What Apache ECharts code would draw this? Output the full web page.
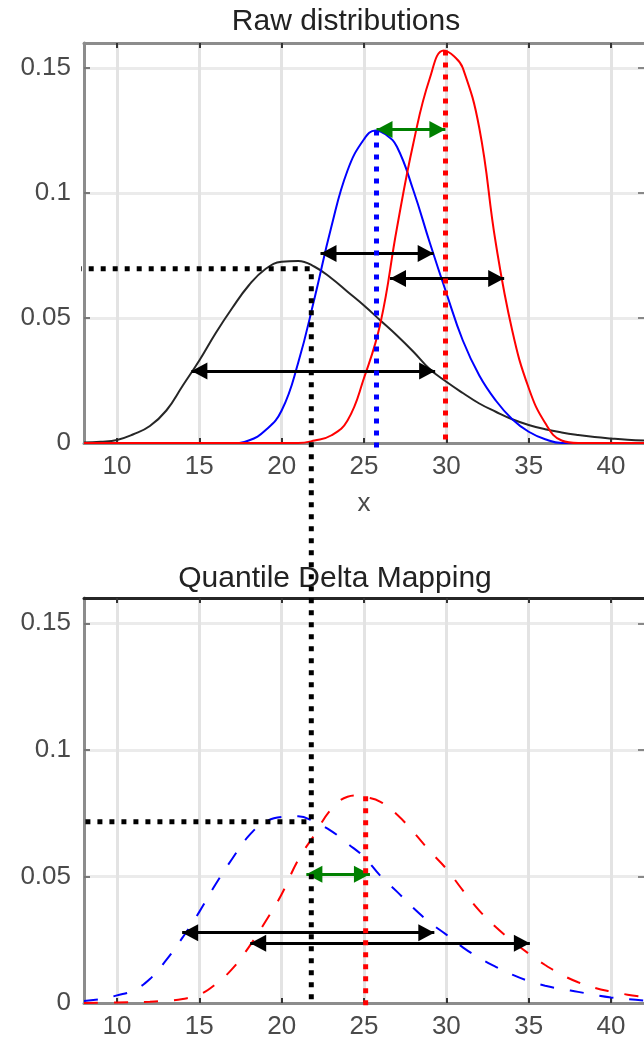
<!DOCTYPE html>
<html>
<head>
<meta charset="utf-8">
<title>Raw distributions / Quantile Delta Mapping</title>
<script src="https://cdn.jsdelivr.net/npm/echarts@6/dist/echarts.min.js"></script>
<style>
  html, body { margin: 0; padding: 0; background: #fff; }
  #chart { width: 644px; height: 1040px; }
</style>
</head>
<body>
<div id="chart"></div>
<script>
// tick values shared by both panels
const xTicks = [10, 15, 20, 25, 30, 35, 40];
const yTicks = [0, 0.05, 0.1, 0.15];

// top panel: raw pdfs (observed, model historical, model future)
const rawObs = [[8,0.0002],[9,0.0005],[10,0.0012],[11,0.0035],[12,0.0068],[13,0.013],[14,0.023],[15,0.033],[16,0.044],[17,0.054],[18,0.063],[19,0.0695],[20,0.0725],[21,0.0728],[22,0.0705],[23,0.066],[24,0.0605],[25,0.055],[26,0.049],[27,0.043],[28,0.0365],[29,0.0295],[30,0.0245],[31,0.02],[32,0.0158],[33,0.0125],[34,0.0095],[35,0.0072],[36,0.0055],[37,0.0042],[38,0.0032],[39,0.0024],[40,0.0018],[41,0.0013],[42,0.001]];
const rawHist = [[8,0],[10,0],[12,0],[14,0],[16,0],[17,0],[18,0.001],[19,0.005],[20,0.013],[21,0.032],[22,0.058],[23,0.086],[24,0.109],[25,0.1215],[25.7,0.125],[26.3,0.1235],[27,0.1185],[28,0.101],[29,0.08],[30,0.06],[31,0.041],[32,0.027],[33,0.017],[34,0.0095],[35,0.0045],[36,0.0015],[37,0],[38,0],[40,0],[42,0]];
const rawFut = [[8,0],[10,0],[12,0],[14,0],[16,0],[18,0],[20,0],[21,0],[22,0.001],[23,0.003],[24,0.009],[25,0.026],[26,0.048],[27,0.086],[28,0.12],[29,0.146],[29.85,0.157],[30.5,0.1545],[31,0.15],[32,0.126],[33,0.08],[34,0.045],[35,0.022],[36,0.008],[37,0.001],[38,0],[40,0],[42,0]];

// bottom panel: QDM-corrected pdfs
const qdmHist = [[8,0.0008],[9,0.0015],[10,0.003],[11,0.005],[12,0.0095],[13,0.017],[14,0.026],[15,0.036],[16,0.047],[17,0.057],[18,0.066],[19,0.0715],[20,0.0735],[21,0.0738],[22,0.0715],[23,0.068],[24,0.063],[25,0.0577],[26,0.0502],[27,0.044],[28,0.0375],[29,0.0318],[30,0.027],[31,0.022],[32,0.0178],[33,0.0143],[34,0.0112],[35,0.0087],[36,0.0068],[37,0.0055],[38,0.0044],[39,0.0032],[40,0.0022],[41,0.0015],[42,0.001]];
const qdmFut = [[8,0],[10,0.0002],[12,0.0005],[13,0.0009],[14,0.0016],[15,0.0033],[16,0.0075],[17,0.0135],[18,0.022],[19,0.032],[20,0.043],[21,0.0565],[22,0.0665],[23,0.0765],[24,0.0815],[24.6,0.082],[25,0.0815],[26,0.0795],[27,0.0745],[28,0.0675],[29,0.06],[30,0.053],[31,0.0445],[32,0.0365],[33,0.03],[34,0.0245],[35,0.0195],[36,0.015],[37,0.0112],[38,0.0082],[39,0.006],[40,0.0045],[41,0.0033],[42,0.0024]];

// dotted guide lines (x, y pairs)
const rawQuantGuide = [[6.1,0.0697],[21.8,0.0697],[21.8,-0.225]];
const rawHistPeak = [[25.76,0.125],[25.76,-0.003]];
const rawFutPeak = [[29.95,0.157],[29.95,0]];
const qdmQuantGuide = [[5.9,0.0716],[21.8,0.0716]];
const qdmFutPeak = [[25.1,0.0817],[25.1,-0.002]];

// double arrows: [x from, x to, y]
const rawSpread = [[22.36,29.23,0.0758],[26.58,33.51,0.0658],[14.52,29.32,0.0288]];
const rawShift = [[25.76,29.94,0.1254]];
const qdmSpread = [[13.96,29.27,0.0278],[18.09,35.07,0.0236]];
const qdmShift = [[21.5,25.36,0.0509]];

const FONT = '"Liberation Sans", Arial, sans-serif';
const chart = echarts.init(document.getElementById('chart'));

function xAxes(gi, frameColor, name) {
    return [{
        type: 'value', gridIndex: gi, position: 'bottom', min: 8, max: 42,
        axisLine: { show: true, onZero: false, lineStyle: { color: '#8c8c8c', width: 3 } },
        axisTick: { show: true, inside: true, length: 5, customValues: xTicks, lineStyle: { color: '#333', width: 2 } },
        axisLabel: { customValues: xTicks, margin: 11, fontSize: 26, color: '#4a4a4a', fontFamily: FONT },
        splitLine: { show: true, lineStyle: { color: '#e3e3e3', width: 3 } },
        name: name, nameLocation: 'middle', nameGap: 48,
        nameTextStyle: { fontSize: 26, color: '#4a4a4a', fontFamily: FONT }
    }, {
        type: 'value', gridIndex: gi, position: 'top', min: 8, max: 42,
        axisLine: { show: true, onZero: false, lineStyle: { color: frameColor, width: 3 } },
        axisTick: { show: true, inside: true, length: 5, customValues: xTicks, lineStyle: { color: '#333', width: 2 } },
        axisLabel: { show: false },
        splitLine: { show: false }
    }];
}

function yAxes(gi) {
    return [{
        type: 'value', gridIndex: gi, position: 'left', min: 0, max: 0.16,
        axisLine: { show: true, onZero: false, lineStyle: { color: '#8c8c8c', width: 3 } },
        axisTick: { show: true, inside: true, length: 6, customValues: yTicks, lineStyle: { color: '#777', width: 2 } },
        axisLabel: { customValues: yTicks, margin: 13, fontSize: 26, color: '#4a4a4a', fontFamily: FONT },
        splitLine: { show: true, lineStyle: { color: '#ebebeb', width: 3 } }
    }, {
        type: 'value', gridIndex: gi, position: 'right', min: 0, max: 0.16,
        axisLine: { show: false },
        axisTick: { show: true, inside: true, length: 6, customValues: yTicks, lineStyle: { color: '#888', width: 2 } },
        axisLabel: { show: false },
        splitLine: { show: false }
    }];
}

function curve(data, color, xi, yi, dashed) {
    return {
        type: 'line', data: data, xAxisIndex: xi, yAxisIndex: yi,
        symbol: 'none', smooth: 0.45, silent: true, z: 3,
        lineStyle: { color: color, width: 2, type: dashed ? [14, 16] : 'solid' }
    };
}

// thick dotted guide, allowed to leave its grid
function guide(data, color, xi, yi, z) {
    return {
        type: 'line', data: data, xAxisIndex: xi, yAxisIndex: yi,
        symbol: 'none', clip: false, silent: true, z: z || 5,
        lineStyle: { color: color, width: 5, type: [5, 7], cap: 'butt' }
    };
}

function arrows(list, color, xi, yi) {
    return {
        type: 'line', data: [], xAxisIndex: xi, yAxisIndex: yi, z: 6,
        markLine: {
            silent: true, animation: false,
            symbol: ['triangle', 'triangle'], symbolSize: [17, 16],
            symbolOffset: [[0, 8], [0, 8]],
            label: { show: false },
            lineStyle: { color: color, width: 3, type: 'solid' },
            data: list.map(a => [{ coord: [a[0], a[2]] }, { coord: [a[1], a[2]] }])
        }
    };
}

chart.setOption({
    animation: false,
    backgroundColor: '#fff',
    title: [
        { text: 'Raw distributions', left: 341, top: 2, textAlign: 'center',
          textStyle: { fontSize: 30, fontWeight: 'normal', color: '#222', fontFamily: FONT } },
        { text: 'Quantile Delta Mapping', left: 330, top: 559, textAlign: 'center',
          textStyle: { fontSize: 30, fontWeight: 'normal', color: '#222', fontFamily: FONT } }
    ],
    grid: [
        { left: 84, right: 0, top: 43, height: 400, containLabel: false, outerBoundsMode: 'none' },
        { left: 84, right: 0, top: 598, height: 405, containLabel: false, outerBoundsMode: 'none' }
    ],
    xAxis: xAxes(0, '#8c8c8c', 'x').concat(xAxes(1, '#262626', '')),
    yAxis: yAxes(0).concat(yAxes(1)),
    series: [
        curve(rawObs, '#262626', 0, 0),
        curve(rawHist, '#0000ff', 0, 0),
        curve(rawFut, '#ff0000', 0, 0),
        curve(qdmHist, '#0000ff', 2, 2, true),
        curve(qdmFut, '#ff0000', 2, 2, true),
        guide(rawHistPeak, '#0000ff', 0, 0),
        guide(rawFutPeak, '#ff0000', 0, 0),
        guide(qdmFutPeak, '#ff0000', 2, 2),
        guide(qdmQuantGuide, '#000', 2, 2),
        guide(rawQuantGuide, '#000', 0, 0, 20),
        arrows(rawSpread, '#000', 0, 0),
        arrows(rawShift, '#008000', 0, 0),
        arrows(qdmSpread, '#000', 2, 2),
        arrows(qdmShift, '#008000', 2, 2)
    ]
});
</script>
</body>
</html>
